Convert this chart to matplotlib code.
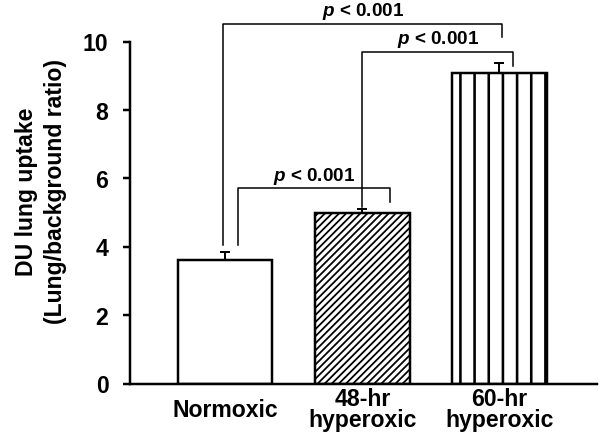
import matplotlib
matplotlib.use('Agg')
import matplotlib.pyplot as plt
import numpy as np

plt.rcParams['font.family'] = ['Liberation Sans', 'DejaVu Sans']
plt.rcParams['font.weight'] = 'bold'
plt.rcParams['mathtext.fontset'] = 'custom'
plt.rcParams['mathtext.it'] = 'Liberation Sans:italic:bold'
plt.rcParams['mathtext.rm'] = 'Liberation Sans:bold'
plt.rcParams['hatch.linewidth'] = 2.0

# data
groups = ['Normoxic', '48-hr\nhyperoxic', '60-hr\nhyperoxic']
means = [3.63, 5.00, 9.09]
sem = [0.23, 0.12, 0.27]
hatches = ['', '////', '|']

# significance brackets: (left bar, right bar, bracket top, left leg end, right leg end)
pairs = [(0, 1), (1, 2), (0, 2)]
tops = [5.71, 9.69, 10.51]
left_ends = [4.07, 5.18, 4.07]
right_ends = [5.30, 9.28, 10.13]
left_shift = [0.095, 0.0, -0.015]
right_shift = [0.20, 0.10, 0.02]
p_text = r'$p$ < 0.001'

dpi = 85
fig = plt.figure(figsize=(600.5 / dpi, 437.5 / dpi), dpi=dpi)
ax = fig.add_axes([0.2167, 0.1213, 0.7783, 0.7826])

x = np.arange(len(groups))
bars = ax.bar(x, means, width=0.69, color='white', edgecolor='black', linewidth=2.1, zorder=2)
for b, h in zip(bars, hatches):
    b.set_hatch(h)
    if hasattr(b, 'set_hatch_linewidth'):
        b.set_hatch_linewidth(2.2 if h == '|' else 1.5)

ax.errorbar(x, means, yerr=[np.zeros(len(means)), sem], fmt='none', ecolor='black',
            elinewidth=1.7, capsize=4.2, capthick=1.7, zorder=3)

for (i, j), t, le, re, ls, rs in zip(pairs, tops, left_ends, right_ends, left_shift, right_shift):
    xl = x[i] + ls
    xr = x[j] + rs
    ax.plot([xl, xl, xr, xr], [le, t, t, re], color='black', lw=1.3, clip_on=False, zorder=4)
    ax.annotate(p_text, xy=((xl + xr) / 2, t), xytext=(0, 2), textcoords='offset points',
                ha='center', va='bottom', fontsize=16, fontweight='bold', annotation_clip=False)

ax.set_xlim(-0.693, 2.715)
ax.set_ylim(0, 10)
ax.set_yticks(np.arange(0, 11, 2))
ax.set_xticks(x)
ax.set_xticklabels(groups, fontsize=19.5, fontweight='bold', linespacing=0.88)
for lab in ax.get_xticklabels():
    lab.set_va('center')
ax.tick_params(axis='x', length=0, pad=22)
ax.tick_params(axis='y', length=5.9, width=2.1, pad=12.5, labelsize=19.5)

ax.set_ylabel('DU lung uptake\n(Lung/background ratio)', fontsize=19.5, fontweight='bold',
              linespacing=1.35)
ax.yaxis.set_label_coords(-0.135, 0.564)

for s in ['top', 'right']:
    ax.spines[s].set_visible(False)
for s in ['left', 'bottom']:
    ax.spines[s].set_linewidth(2.1)

plt.savefig('out.png', dpi=dpi)
